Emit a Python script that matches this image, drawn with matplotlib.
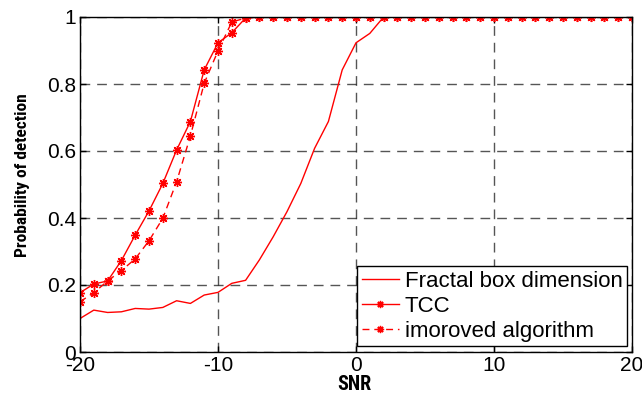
import numpy as np
import matplotlib
matplotlib.use("Agg")
import matplotlib.pyplot as plt

snr = list(range(-20, 21))
fractal = [0.100, 0.125, 0.118, 0.120, 0.130, 0.128, 0.133, 0.153, 0.145, 0.170,
           0.178, 0.205, 0.214, 0.275, 0.344, 0.419, 0.503, 0.608, 0.688, 0.842,
           0.923, 0.951, 1.0] + [1.0] * 18
tcc = [0.177, 0.203, 0.212, 0.273, 0.349, 0.421, 0.503, 0.603, 0.688, 0.842,
       0.923, 0.953, 0.997] + [1.0] * 28
improved = [0.150, 0.177, 0.212, 0.243, 0.278, 0.332, 0.399, 0.508, 0.645, 0.802,
            0.899, 0.985, 0.997] + [1.0] * 28
labels = ["Fractal box dimension", "TCC", "imoroved algorithm"]
xticks = [-20, -10, 0, 10, 20]
yticks = [0, 0.2, 0.4, 0.6, 0.8, 1]
ytick_labels = ["0", "0.2", "0.4", "0.6", "0.8", "1"]

plt.rcParams['font.family'] = ['Liberation Sans', 'DejaVu Sans']
plt.rcParams['axes.unicode_minus'] = False
fig = plt.figure(figsize=(6.42, 3.97), dpi=100)
ax = fig.add_axes([80/642, 1-352/397, 552/642, 335/397])

red = '#ff0000'
ast = (8, 2, 0)
ax.plot(snr, fractal, color=red, lw=1.0, label=labels[0])
ax.plot(snr, tcc, color=red, lw=1.0, marker=ast, ms=6.5, mew=1.0, label=labels[1])
ax.plot(snr, improved, color=red, lw=1.0, ls=(0, (5, 3.5)), marker=ast, ms=6.5, mew=1.0, label=labels[2])

ax.set_xlim(-20, 20)
ax.set_ylim(0, 1)
ax.set_xticks(xticks)
ax.set_yticks(yticks)
ax.set_yticklabels(ytick_labels)
ax.tick_params(direction='in', top=True, right=True, labelsize=15, length=4, width=1)
ax.tick_params(axis='x', pad=3)
ax.tick_params(axis='y', pad=3)
ax.grid(True, color='#2a2a2a', ls=(0, (7, 5)), lw=1.0, alpha=0.8)
for s in ax.spines.values():
    s.set_linewidth(1.0)

ax.set_xlabel("SNR", family='Roboto Condensed', weight='bold', fontsize=14.5)
ax.xaxis.set_label_coords(0.497, -0.07)
ax.set_ylabel("Probability of detection", family='Roboto Condensed', weight='bold', fontsize=12.5)
ax.yaxis.set_label_coords(-0.09, 0.527)

leg = ax.legend(loc='lower right', bbox_to_anchor=(0.991, 0.018), borderaxespad=0,
                fontsize=16, fancybox=False, framealpha=1, edgecolor='black',
                handlelength=1.67, handletextpad=0.27, labelspacing=0.18, borderpad=0.2,
                markerscale=0.8, numpoints=1)
leg.get_frame().set_linewidth(1.0)

fig.savefig("out.png", dpi=100)
